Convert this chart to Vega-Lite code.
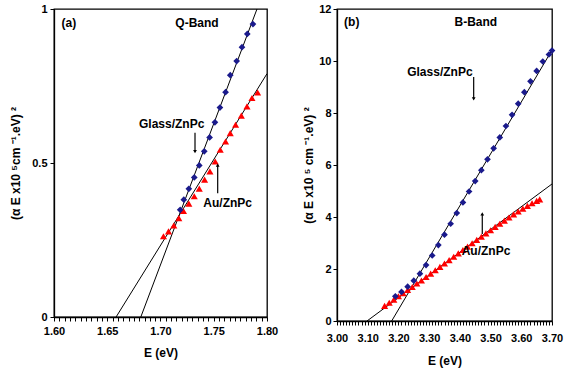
{
  "$schema": "https://vega.github.io/schema/vega-lite/v6.json",
  "padding": {"left": 9, "top": 2, "right": 5, "bottom": 5},
  "background": "white",
  "spacing": 23,
  "datasets": {
    "pts": [
      {"panel": "a", "series": "Glass", "E": 1.7185, "y": 0.348},
      {"panel": "a", "series": "Glass", "E": 1.7219, "y": 0.381},
      {"panel": "a", "series": "Glass", "E": 1.7266, "y": 0.416},
      {"panel": "a", "series": "Glass", "E": 1.7317, "y": 0.453},
      {"panel": "a", "series": "Glass", "E": 1.7364, "y": 0.492},
      {"panel": "a", "series": "Glass", "E": 1.7411, "y": 0.538},
      {"panel": "a", "series": "Glass", "E": 1.7461, "y": 0.583},
      {"panel": "a", "series": "Glass", "E": 1.7511, "y": 0.632},
      {"panel": "a", "series": "Glass", "E": 1.7558, "y": 0.68},
      {"panel": "a", "series": "Glass", "E": 1.7611, "y": 0.73},
      {"panel": "a", "series": "Glass", "E": 1.7655, "y": 0.785},
      {"panel": "a", "series": "Glass", "E": 1.7715, "y": 0.831},
      {"panel": "a", "series": "Glass", "E": 1.7765, "y": 0.876},
      {"panel": "a", "series": "Glass", "E": 1.7815, "y": 0.919},
      {"panel": "a", "series": "Glass", "E": 1.7868, "y": 0.951},
      {"panel": "a", "series": "Au", "E": 1.7028, "y": 0.262},
      {"panel": "a", "series": "Au", "E": 1.7075, "y": 0.278},
      {"panel": "a", "series": "Au", "E": 1.7125, "y": 0.297},
      {"panel": "a", "series": "Au", "E": 1.7172, "y": 0.321},
      {"panel": "a", "series": "Au", "E": 1.7216, "y": 0.344},
      {"panel": "a", "series": "Au", "E": 1.7266, "y": 0.368},
      {"panel": "a", "series": "Au", "E": 1.7317, "y": 0.392},
      {"panel": "a", "series": "Au", "E": 1.7364, "y": 0.417},
      {"panel": "a", "series": "Au", "E": 1.7414, "y": 0.446},
      {"panel": "a", "series": "Au", "E": 1.7464, "y": 0.473},
      {"panel": "a", "series": "Au", "E": 1.7514, "y": 0.505},
      {"panel": "a", "series": "Au", "E": 1.7561, "y": 0.543},
      {"panel": "a", "series": "Au", "E": 1.7611, "y": 0.57},
      {"panel": "a", "series": "Au", "E": 1.7655, "y": 0.597},
      {"panel": "a", "series": "Au", "E": 1.7705, "y": 0.624},
      {"panel": "a", "series": "Au", "E": 1.7759, "y": 0.654},
      {"panel": "a", "series": "Au", "E": 1.7812, "y": 0.684},
      {"panel": "a", "series": "Au", "E": 1.7859, "y": 0.711},
      {"panel": "a", "series": "Au", "E": 1.7912, "y": 0.729},
      {"panel": "b", "series": "Glass", "E": 3.19, "y": 0.95},
      {"panel": "b", "series": "Glass", "E": 3.21, "y": 1.12},
      {"panel": "b", "series": "Glass", "E": 3.23, "y": 1.32},
      {"panel": "b", "series": "Glass", "E": 3.25, "y": 1.55},
      {"panel": "b", "series": "Glass", "E": 3.27, "y": 1.82},
      {"panel": "b", "series": "Glass", "E": 3.29, "y": 2.15},
      {"panel": "b", "series": "Glass", "E": 3.31, "y": 2.52},
      {"panel": "b", "series": "Glass", "E": 3.33, "y": 2.92},
      {"panel": "b", "series": "Glass", "E": 3.35, "y": 3.32},
      {"panel": "b", "series": "Glass", "E": 3.37, "y": 3.74},
      {"panel": "b", "series": "Glass", "E": 3.39, "y": 4.15},
      {"panel": "b", "series": "Glass", "E": 3.41, "y": 4.56},
      {"panel": "b", "series": "Glass", "E": 3.43, "y": 4.98},
      {"panel": "b", "series": "Glass", "E": 3.45, "y": 5.38},
      {"panel": "b", "series": "Glass", "E": 3.47, "y": 5.8},
      {"panel": "b", "series": "Glass", "E": 3.49, "y": 6.22},
      {"panel": "b", "series": "Glass", "E": 3.51, "y": 6.64},
      {"panel": "b", "series": "Glass", "E": 3.53, "y": 7.06},
      {"panel": "b", "series": "Glass", "E": 3.55, "y": 7.5},
      {"panel": "b", "series": "Glass", "E": 3.57, "y": 7.93},
      {"panel": "b", "series": "Glass", "E": 3.59, "y": 8.36},
      {"panel": "b", "series": "Glass", "E": 3.61, "y": 8.8},
      {"panel": "b", "series": "Glass", "E": 3.63, "y": 9.22},
      {"panel": "b", "series": "Glass", "E": 3.65, "y": 9.62},
      {"panel": "b", "series": "Glass", "E": 3.67, "y": 9.98},
      {"panel": "b", "series": "Glass", "E": 3.69, "y": 10.25},
      {"panel": "b", "series": "Glass", "E": 3.7, "y": 10.4},
      {"panel": "b", "series": "Au", "E": 3.155, "y": 0.58},
      {"panel": "b", "series": "Au", "E": 3.17, "y": 0.7},
      {"panel": "b", "series": "Au", "E": 3.185, "y": 0.82},
      {"panel": "b", "series": "Au", "E": 3.2, "y": 0.95},
      {"panel": "b", "series": "Au", "E": 3.215, "y": 1.07},
      {"panel": "b", "series": "Au", "E": 3.23, "y": 1.19},
      {"panel": "b", "series": "Au", "E": 3.245, "y": 1.31},
      {"panel": "b", "series": "Au", "E": 3.26, "y": 1.44},
      {"panel": "b", "series": "Au", "E": 3.275, "y": 1.56},
      {"panel": "b", "series": "Au", "E": 3.29, "y": 1.69},
      {"panel": "b", "series": "Au", "E": 3.305, "y": 1.82},
      {"panel": "b", "series": "Au", "E": 3.32, "y": 1.95},
      {"panel": "b", "series": "Au", "E": 3.335, "y": 2.08},
      {"panel": "b", "series": "Au", "E": 3.35, "y": 2.21},
      {"panel": "b", "series": "Au", "E": 3.365, "y": 2.34},
      {"panel": "b", "series": "Au", "E": 3.38, "y": 2.47},
      {"panel": "b", "series": "Au", "E": 3.395, "y": 2.6},
      {"panel": "b", "series": "Au", "E": 3.41, "y": 2.73},
      {"panel": "b", "series": "Au", "E": 3.425, "y": 2.86},
      {"panel": "b", "series": "Au", "E": 3.44, "y": 2.99},
      {"panel": "b", "series": "Au", "E": 3.455, "y": 3.12},
      {"panel": "b", "series": "Au", "E": 3.47, "y": 3.24},
      {"panel": "b", "series": "Au", "E": 3.485, "y": 3.37},
      {"panel": "b", "series": "Au", "E": 3.5, "y": 3.49},
      {"panel": "b", "series": "Au", "E": 3.515, "y": 3.62},
      {"panel": "b", "series": "Au", "E": 3.53, "y": 3.74},
      {"panel": "b", "series": "Au", "E": 3.545, "y": 3.86},
      {"panel": "b", "series": "Au", "E": 3.56, "y": 3.98},
      {"panel": "b", "series": "Au", "E": 3.575, "y": 4.1},
      {"panel": "b", "series": "Au", "E": 3.59, "y": 4.21},
      {"panel": "b", "series": "Au", "E": 3.605, "y": 4.32},
      {"panel": "b", "series": "Au", "E": 3.62, "y": 4.43},
      {"panel": "b", "series": "Au", "E": 3.635, "y": 4.53},
      {"panel": "b", "series": "Au", "E": 3.65, "y": 4.62},
      {"panel": "b", "series": "Au", "E": 3.66, "y": 4.68}
    ],
    "fits": [
      {"panel": "a", "series": "Glass", "E": 1.6815, "y": 0},
      {"panel": "a", "series": "Glass", "E": 1.7906, "y": 1.0},
      {"panel": "a", "series": "Au", "E": 1.6583, "y": 0},
      {"panel": "a", "series": "Au", "E": 1.8, "y": 0.79},
      {"panel": "b", "series": "Glass", "E": 3.178, "y": 0},
      {"panel": "b", "series": "Glass", "E": 3.702, "y": 10.46},
      {"panel": "b", "series": "Au", "E": 3.0977, "y": 0},
      {"panel": "b", "series": "Au", "E": 3.7, "y": 5.27}
    ],
    "notes": [
      {"panel": "a", "E": 1.614, "y": 0.955, "label": "(a)"},
      {"panel": "a", "E": 1.7343, "y": 0.955, "label": "Q-Band"},
      {"panel": "a", "E": 1.7105, "y": 0.627, "label": "Glass/ZnPc"},
      {"panel": "a", "E": 1.7631, "y": 0.371, "label": "Au/ZnPc"},
      {"panel": "b", "E": 3.048, "y": 11.5, "label": "(b)"},
      {"panel": "b", "E": 3.452, "y": 11.5, "label": "B-Band"},
      {"panel": "b", "E": 3.335, "y": 9.56, "label": "Glass/ZnPc"},
      {"panel": "b", "E": 3.485, "y": 2.7, "label": "Au/ZnPc"}
    ],
    "arrows": [
      {"panel": "a", "E": 1.7324, "y1": 0.598, "y2": 0.537, "dir": "down"},
      {"panel": "a", "E": 1.7537, "y1": 0.402, "y2": 0.493, "dir": "up"},
      {"panel": "b", "E": 3.445, "y1": 9.38, "y2": 8.54, "dir": "down"},
      {"panel": "b", "E": 3.473, "y1": 3.35, "y2": 4.12, "dir": "up"}
    ]
  },
  "hconcat": [
    {
      "width": 213,
      "height": 308,
      "encoding": {
        "x": {
          "field": "E", "type": "quantitative",
          "scale": {"domain": [1.6, 1.8], "nice": false, "zero": false},
          "axis": {
            "title": "E (eV)",
            "values": [1.6,1.605,1.61,1.615,1.62,1.625,1.63,1.635,1.64,1.645,1.65,1.655,1.66,1.665,1.67,1.675,1.68,1.685,1.69,1.695,1.7,1.705,1.71,1.715,1.72,1.725,1.73,1.735,1.74,1.745,1.75,1.755,1.76,1.765,1.77,1.775,1.78,1.785,1.79,1.795,1.8],
            "labelExpr": "round(datum.value*1000) % 50 == 0 ? format(datum.value, '.2f') : ''",
            "labelOverlap": false,
            "labelFlush": false,
            "labelPadding": 4,
            "titlePadding": 11
          }
        },
        "y": {
          "field": "y", "type": "quantitative",
          "scale": {"domain": [0, 1], "nice": false, "zero": false},
          "axis": {
            "title": "(α E x10 ⁵cm ⁻¹.eV) ²",
            "values": [0, 0.5, 1],
            "labelExpr": "'' + datum.value",
            "labelPadding": 3,
            "titlePadding": 9
          }
        }
      },
      "layer": [
        {
          "data": {"name": "fits"},
          "transform": [{"filter": "datum.panel == 'a'"}],
          "mark": {"type": "line", "color": "black", "strokeWidth": 1, "clip": true},
          "encoding": {"detail": {"field": "series"}}
        },
        {
          "data": {"name": "pts"},
          "transform": [{"filter": "datum.panel == 'a' && datum.series == 'Au'"}],
          "mark": {"type": "point", "shape": "triangle-up", "filled": true, "color": "#ff0000", "size": 50, "opacity": 1}
        },
        {
          "data": {"name": "pts"},
          "transform": [{"filter": "datum.panel == 'a' && datum.series == 'Glass'"}],
          "mark": {"type": "point", "shape": "diamond", "filled": true, "color": "#1a1a8c", "size": 45, "opacity": 1}
        },
        {
          "data": {"name": "arrows"},
          "transform": [{"filter": "datum.panel == 'a'"}],
          "mark": {"type": "rule", "color": "black", "strokeWidth": 1.2},
          "encoding": {"y": {"field": "y1", "type": "quantitative"}, "y2": {"field": "y2"}}
        },
        {
          "data": {"name": "arrows"},
          "transform": [{"filter": "datum.panel == 'a'"}],
          "mark": {"type": "point", "filled": true, "color": "black", "size": 14, "opacity": 1},
          "encoding": {
            "y": {"field": "y2", "type": "quantitative"},
            "shape": {"field": "dir", "type": "nominal", "scale": {"domain": ["down", "up"], "range": ["triangle-down", "triangle-up"]}, "legend": null}
          }
        },
        {
          "data": {"name": "notes"},
          "transform": [{"filter": "datum.panel == 'a'"}],
          "mark": {"type": "text", "font": "Liberation Sans", "fontWeight": "bold", "fontSize": 12, "color": "black", "align": "center", "baseline": "middle"},
          "encoding": {"text": {"field": "label"}}
        }
      ]
    },
    {
      "width": 215,
      "height": 312,
      "encoding": {
        "x": {
          "field": "E", "type": "quantitative",
          "scale": {"domain": [3.0, 3.7], "nice": false, "zero": false},
          "axis": {
            "title": "E (eV)",
            "values": [3.0,3.01,3.02,3.03,3.04,3.05,3.06,3.07,3.08,3.09,3.1,3.11,3.12,3.13,3.14,3.15,3.16,3.17,3.18,3.19,3.2,3.21,3.22,3.23,3.24,3.25,3.26,3.27,3.28,3.29,3.3,3.31,3.32,3.33,3.34,3.35,3.36,3.37,3.38,3.39,3.4,3.41,3.42,3.43,3.44,3.45,3.46,3.47,3.48,3.49,3.5,3.51,3.52,3.53,3.54,3.55,3.56,3.57,3.58,3.59,3.6,3.61,3.62,3.63,3.64,3.65,3.66,3.67,3.68,3.69,3.7],
            "labelExpr": "round(datum.value*100) % 10 == 0 ? format(datum.value, '.2f') : ''",
            "labelOverlap": false,
            "labelFlush": false,
            "labelPadding": 7,
            "titlePadding": 12
          }
        },
        "y": {
          "field": "y", "type": "quantitative",
          "scale": {"domain": [0, 12], "nice": false, "zero": false},
          "axis": {
            "title": "(α E x10 ⁵ cm ⁻¹.eV) ²",
            "values": [0, 2, 4, 6, 8, 10, 12],
            "labelExpr": "'' + datum.value",
            "labelPadding": 2,
            "titlePadding": 3
          }
        }
      },
      "layer": [
        {
          "data": {"name": "fits"},
          "transform": [{"filter": "datum.panel == 'b'"}],
          "mark": {"type": "line", "color": "black", "strokeWidth": 1, "clip": true},
          "encoding": {"detail": {"field": "series"}}
        },
        {
          "data": {"name": "pts"},
          "transform": [{"filter": "datum.panel == 'b' && datum.series == 'Au'"}],
          "mark": {"type": "point", "shape": "triangle-up", "filled": true, "color": "#ff0000", "size": 50, "opacity": 1}
        },
        {
          "data": {"name": "pts"},
          "transform": [{"filter": "datum.panel == 'b' && datum.series == 'Glass'"}],
          "mark": {"type": "point", "shape": "diamond", "filled": true, "color": "#1a1a8c", "size": 45, "opacity": 1}
        },
        {
          "data": {"name": "arrows"},
          "transform": [{"filter": "datum.panel == 'b'"}],
          "mark": {"type": "rule", "color": "black", "strokeWidth": 1.2},
          "encoding": {"y": {"field": "y1", "type": "quantitative"}, "y2": {"field": "y2"}}
        },
        {
          "data": {"name": "arrows"},
          "transform": [{"filter": "datum.panel == 'b'"}],
          "mark": {"type": "point", "filled": true, "color": "black", "size": 14, "opacity": 1},
          "encoding": {
            "y": {"field": "y2", "type": "quantitative"},
            "shape": {"field": "dir", "type": "nominal", "scale": {"domain": ["down", "up"], "range": ["triangle-down", "triangle-up"]}, "legend": null}
          }
        },
        {
          "data": {"name": "notes"},
          "transform": [{"filter": "datum.panel == 'b'"}],
          "mark": {"type": "text", "font": "Liberation Sans", "fontWeight": "bold", "fontSize": 12, "color": "black", "align": "center", "baseline": "middle"},
          "encoding": {"text": {"field": "label"}}
        }
      ]
    }
  ],
  "config": {
    "view": {"stroke": "black", "strokeWidth": 1.3},
    "axis": {
      "grid": false,
      "domainColor": "black",
      "domainWidth": 1.3,
      "tickColor": "black",
      "tickSize": 4,
      "labelColor": "black",
      "titleColor": "black",
      "labelFont": "Liberation Sans",
      "titleFont": "Liberation Sans",
      "labelFontWeight": "bold",
      "titleFontWeight": "bold",
      "labelFontSize": 11,
      "titleFontSize": 12,
      "labelFlush": false
    }
  }
}
